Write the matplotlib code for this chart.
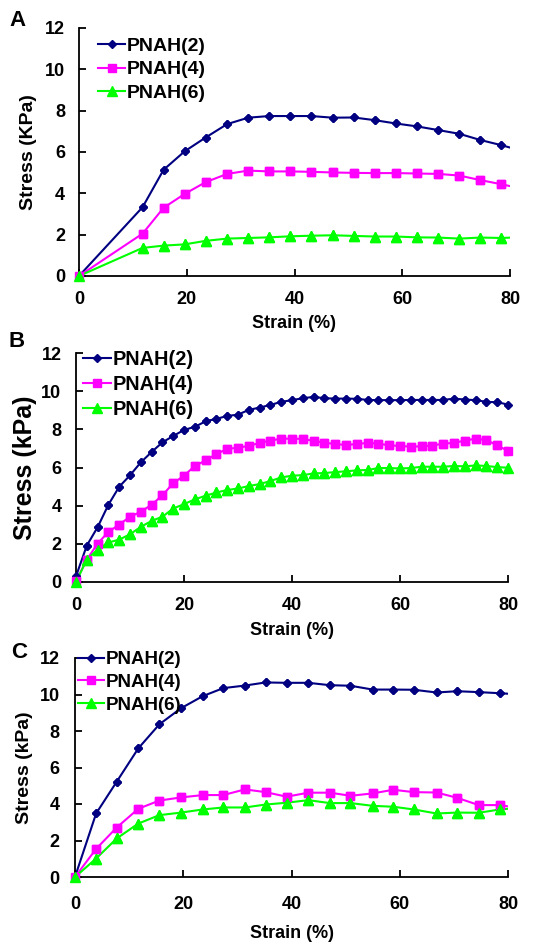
import matplotlib
matplotlib.use("Agg")
import matplotlib.pyplot as plt

plt.rcParams['font.family'] = ['Liberation Sans', 'DejaVu Sans']
plt.rcParams['font.weight'] = 'bold'

labels = ["PNAH(2)", "PNAH(4)", "PNAH(6)"]
colors = ["#000080", "#FF00FF", "#00FF00"]
markers = ["D", "s", "^"]
msizes = [4.5, 6, 7]

# Panel A
xA = [0, 11.8, 15.7, 19.6, 23.5, 27.5, 31.4, 35.3, 39.2, 43.1, 47.1, 51.0, 54.9,
      58.8, 62.7, 66.7, 70.6, 74.5, 78.4, 82.3]
a2 = [0, 3.33, 5.14, 6.03, 6.70, 7.35, 7.66, 7.74, 7.74, 7.74, 7.66, 7.67, 7.54,
      7.38, 7.24, 7.06, 6.88, 6.58, 6.33, 6.05]
a4 = [0, 2.05, 3.30, 3.97, 4.54, 4.94, 5.10, 5.06, 5.06, 5.04, 5.01, 4.99, 4.98,
      4.98, 4.96, 4.94, 4.86, 4.64, 4.44, 4.22]
a6 = [0, 1.36, 1.47, 1.53, 1.70, 1.81, 1.84, 1.87, 1.92, 1.95, 1.97, 1.94, 1.91,
      1.91, 1.87, 1.86, 1.81, 1.86, 1.84, 1.88]

# Panel B
xB = list(range(0, 82, 2))
b2 = [0.3, 1.91, 2.87, 4.05, 4.99, 5.59, 6.27, 6.81, 7.32, 7.65, 7.97, 8.13, 8.42,
      8.55, 8.70, 8.77, 9.02, 9.14, 9.28, 9.44, 9.53, 9.63, 9.70, 9.63, 9.61, 9.61,
      9.60, 9.54, 9.53, 9.53, 9.53, 9.54, 9.54, 9.54, 9.54, 9.61, 9.56, 9.53, 9.44,
      9.42, 9.30]
b4 = [0.05, 1.17, 2.01, 2.63, 3.01, 3.42, 3.68, 4.05, 4.54, 5.18, 5.57, 6.08, 6.37,
      6.71, 6.97, 7.04, 7.13, 7.29, 7.41, 7.51, 7.51, 7.50, 7.39, 7.30, 7.23, 7.18,
      7.23, 7.29, 7.25, 7.16, 7.13, 7.09, 7.11, 7.15, 7.25, 7.29, 7.41, 7.51, 7.44,
      7.16, 6.87]
b6 = [0.0, 1.17, 1.70, 2.07, 2.22, 2.50, 2.89, 3.20, 3.42, 3.85, 4.08, 4.33, 4.52,
      4.69, 4.82, 4.90, 5.03, 5.13, 5.29, 5.48, 5.57, 5.60, 5.69, 5.71, 5.76, 5.80,
      5.85, 5.87, 5.97, 5.97, 5.95, 5.97, 6.04, 6.04, 6.04, 6.08, 6.06, 6.11, 6.08,
      6.02, 5.99]

# Panel C
xC = [0, 3.9, 7.7, 11.7, 15.6, 19.6, 23.6, 27.4, 31.4, 35.2, 39.1, 43.1, 47.1,
      50.9, 55.0, 58.8, 62.6, 66.8, 70.6, 74.6, 78.5, 82.4]
c2 = [0, 3.48, 5.22, 7.05, 8.37, 9.25, 9.91, 10.35, 10.49, 10.66, 10.64, 10.64,
      10.51, 10.48, 10.27, 10.27, 10.26, 10.11, 10.18, 10.13, 10.07, 10.00]
c4 = [0, 1.54, 2.71, 3.74, 4.19, 4.36, 4.49, 4.49, 4.80, 4.65, 4.40, 4.62, 4.62,
      4.45, 4.58, 4.78, 4.65, 4.63, 4.34, 3.94, 3.94, 3.76]
c6 = [0, 1.01, 2.11, 2.93, 3.39, 3.53, 3.70, 3.81, 3.81, 3.97, 4.07, 4.21, 4.05,
      4.05, 3.90, 3.85, 3.70, 3.48, 3.53, 3.52, 3.70, 3.80]

xticks = [0, 20, 40, 60, 80]
yticks = [0, 2, 4, 6, 8, 10, 12]

W, H = 539, 942
fig = plt.figure(figsize=(W / 100, H / 100), dpi=100)

def box(l, r, t, b):
    return [l / W, 1 - b / H, (r - l) / W, (b - t) / H]

panels = [
    dict(rect=box(79, 510, 28, 276), x=xA, ys=[a2, a4, a6], letter="A",
         ylabel="Stress (KPa)", ylfs=14, ylpad=6, lpos=(17, 21), legfs=14,
         legpos=(98, 37), legsp=0.32, xpad=11, ypad=10, xlpad=5),
    dict(rect=box(76, 508, 353, 582), x=xB, ys=[b2, b4, b6], letter="B",
         ylabel="Stress (kPa)", ylfs=18, ylpad=3, lpos=(17, 342), legfs=14.3,
         legpos=(83, 350), legsp=0.3, xpad=10.5, ypad=10.5, xlpad=6),
    dict(rect=box(75, 508, 658, 877), x=xC, ys=[c2, c4, c6], letter="C",
         ylabel="Stress (kPa)", ylfs=14, ylpad=4.5, lpos=(19, 652), legfs=13.5,
         legpos=(78, 651), legsp=0.3, xpad=13.5, ypad=11, xlpad=9),
]

for p in panels:
    ax = fig.add_axes(p["rect"])
    handles = []
    for y, lab, c, m, ms in zip(p["ys"], labels, colors, markers, msizes):
        h, = ax.plot(p["x"], y, color=c, marker=m, markersize=ms, lw=1.5,
                     label=lab, clip_on=True, markeredgecolor=c)
        handles.append(h)
        # markers inside the x range drawn unclipped so edge markers are whole
        xs = [xv for xv in p["x"] if xv <= 80]
        ax.plot(xs, y[:len(xs)], color=c, marker=m, markersize=ms, lw=0,
                clip_on=False, markeredgecolor=c, zorder=3)
    ax.set_xlim(0, 80)
    ax.set_ylim(0, 12)
    ax.set_xticks(xticks)
    ax.set_yticks(yticks)
    for s in ["top", "right"]:
        ax.spines[s].set_visible(False)
    for s in ["left", "bottom"]:
        ax.spines[s].set_linewidth(1.3)
    ax.tick_params(direction="in", length=5, width=1.3, labelsize=13)
    ax.tick_params(axis="x", pad=p["xpad"])
    ax.tick_params(axis="y", pad=p["ypad"])
    for t in ax.get_xticklabels() + ax.get_yticklabels():
        t.set_fontweight("bold")
    ax.set_xlabel("Strain (%)", fontsize=13, fontweight="bold", labelpad=p["xlpad"])
    ax.set_ylabel(p["ylabel"], fontsize=p["ylfs"], fontweight="bold",
                  labelpad=p["ylpad"])
    fig.text(p["lpos"][0] / W, 1 - p["lpos"][1] / H, p["letter"], fontsize=16,
             fontweight="bold", ha="center", va="center")
    leg = ax.legend(handles=handles, loc="upper left",
                    bbox_to_anchor=(p["legpos"][0] / W, 1 - p["legpos"][1] / H),
                    bbox_transform=fig.transFigure, frameon=False,
                    fontsize=p["legfs"], handlelength=1.4, handletextpad=0.1,
                    labelspacing=p["legsp"], borderpad=0, borderaxespad=0)
    for t in leg.get_texts():
        t.set_fontweight("bold")

fig.savefig("out.png", dpi=100)
